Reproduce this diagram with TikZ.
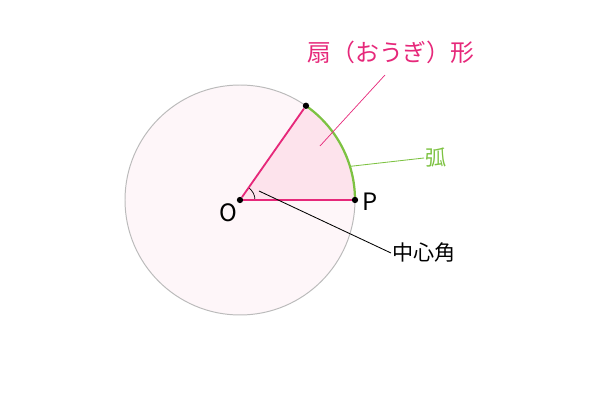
\documentclass[tikz,border=0pt]{standalone}
\usepackage{fontspec}
\setmainfont{Noto Sans CJK JP}
\usetikzlibrary{arrows, positioning}

\definecolor{ougipink}{HTML}{E6287A}
\definecolor{ougifill}{HTML}{FDE3EC}
\definecolor{enfill}{HTML}{FEF6F9}
\definecolor{engray}{HTML}{BBBBBB}
\definecolor{kogreen}{HTML}{7DC242}

\begin{document}
\begin{tikzpicture}[x=0.025cm, y=0.025cm]
          \tikzstyle{dot}=[circle, fill=black, inner sep=0pt, minimum size=4.5pt]
          \tikzstyle{tag}=[inner sep=1pt, font=\fontsize{15}{17}\selectfont]

          \useasboundingbox (-240,-200) rectangle (360,200);

          \fill[enfill, draw=engray, line width=0.7pt] (0,0) circle (115);
          \fill[ougifill] (0,0) -- (115,0) arc (0:55:115) -- cycle;
          \draw[black, line width=0.5pt] (15,0) arc (0:55:15);
          \draw[kogreen, line width=1.6pt] (115,0) arc (0:55:115);

          \node[dot] (O) at (0,0) {};
          \node[dot] (P) at (115,0) {};
          \node[dot] (A) at (55:115) {};

          \path (O) edge[ougipink, line width=1.3pt] (P);
          \path (O) edge[ougipink, line width=1.3pt] (A);

          \node[font=\fontsize{17}{19}\selectfont] at (-12,-13) {O};
          \node[font=\fontsize{17}{19}\selectfont] at (130,-2) {P};

          % leaders
          \coordinate (inside) at (80,54);
          \coordinate (ougiend) at (145,125);
          \node[tag, ougipink, font=\fontsize{17}{19}\selectfont] (ougi) at (151,148) {扇（おうぎ）形};
          \coordinate (onarc) at (17:115);
          \node[tag, kogreen, anchor=west] (ko) at (184,42) {弧};
          \coordinate (atangle) at (19,9);
          \node[tag, anchor=west] (kaku) at (151,-53) {中心角};

          \path (inside) edge[ougipink, line width=0.5pt] (ougiend);
          \path (onarc) edge[kogreen, line width=0.6pt] (ko.west);
          \path (atangle) edge[black, line width=0.6pt] (kaku.west);

        \end{tikzpicture}
\end{document}
